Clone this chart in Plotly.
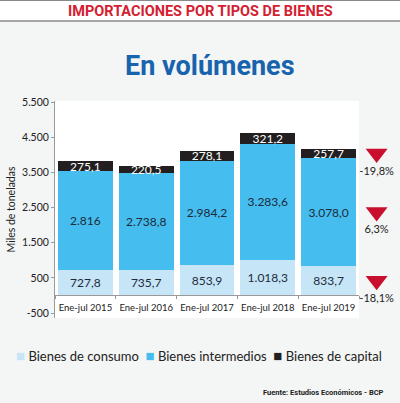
import plotly.graph_objects as go

# values (thousands of tonnes)
periodos = ["Ene-jul 2015", "Ene-jul 2016", "Ene-jul 2017", "Ene-jul 2018", "Ene-jul 2019"]
consumo = [727.8, 735.7, 853.9, 1018.3, 833.7]
intermedios = [2816.0, 2738.8, 2984.2, 3283.6, 3078.0]
capital = [275.1, 220.5, 278.1, 321.2, 257.7]

consumo_txt = ["727,8", "735,7", "853,9", "1.018,3", "833,7"]
intermedios_txt = ["2.816", "2.738,8", "2.984,2", "3.283,6", "3.078,0"]
capital_txt = ["275,1", "220,5", "278,1", "321,2", "257,7"]

# change 2019 vs 2018 per type (consumo, intermedios, capital)
variacion_txt = ["-18,1%", "6,3%", "-19,8%"]

ytick_vals = [-500, 500, 1500, 2500, 3500, 4500, 5500]
ytick_text = ["-500", "500", "1.500", "2.500", "3.500", "4.500", "5.500"]
y_range = [-640, 5530]

W, H = 400, 403
ML, MR, MT, MB = 55, 0, 101, 85
PLOT_RIGHT = 359  # right edge of the white plot box, px


def py(pix):
    # pixel row -> paper y
    return (H - MB - pix) / (H - MT - MB)


def px(pix):
    # pixel column -> paper x
    return (pix - ML) / (W - ML - MR)


FONT = "Lato, 'Open Sans', sans-serif"
HEAD = "Roboto, sans-serif"

colores = ["#c6e5f6", "#45bdee", "#231f20"]
nombres = ["Bienes de consumo", "Bienes intermedios", "Bienes de capital"]

fig = go.Figure()

series = zip(nombres, [consumo, intermedios, capital],
             [consumo_txt, intermedios_txt, capital_txt], colores,
             ["#1d2b3a", "#1d2b3a", "white"])
for name, vals, txt, col, tcol in series:
    fig.add_trace(go.Bar(
        x=periodos, y=vals, name=name, text=txt,
        textposition="inside", insidetextanchor="middle", textangle=0,
        constraintext="none", textfont=dict(family=FONT, size=12, color=tcol),
        marker=dict(color=col, line=dict(width=0)), hoverinfo="skip",
        showlegend=False,
    ))

# red down-triangles next to the last bar, at the middle of each segment
last = len(periodos) - 1
bases = [0, consumo[last], consumo[last] + intermedios[last]]
sizes = [consumo[last], intermedios[last], capital[last]]
mids = [b + s / 2 for b, s in zip(bases, sizes)]
fig.add_trace(go.Scatter(
    x=[0.43] * 3, y=mids, xaxis="x2", yaxis="y", mode="markers+text",
    text=variacion_txt, textposition="bottom center", cliponaxis=False,
    showlegend=False,
    marker=dict(symbol="triangle-down", size=19, color="#c8102e"),
    textfont=dict(family=FONT, size=11, color="#222"), hoverinfo="skip",
))

# legend drawn as one line of text with coloured squares
leyenda = "  ".join(
    '<span style="color:%s;font-size:15px">■</span> %s' % (c, n)
    for c, n in zip(colores, nombres)
)

zero_pos = (0 - y_range[0]) / (y_range[1] - y_range[0])
dom_end = px(PLOT_RIGHT)

fig.update_layout(
    width=W, height=H, barmode="stack", bargap=0.1,
    separators=",.",
    margin=dict(l=ML, r=MR, t=MT, b=MB),
    paper_bgcolor="#f4f5f5", plot_bgcolor="rgba(0,0,0,0)",
    font=dict(family=FONT, color="#222"),
    showlegend=False,
    xaxis=dict(domain=[0, dom_end], anchor="free", position=zero_pos,
               showgrid=False, showline=True, linecolor="#9a9a9a", linewidth=1,
               ticks="outside", ticklen=3, tickcolor="#9a9a9a", tickson="boundaries",
               tickangle=0, automargin=False, ticklabelstandoff=3,
               tickfont=dict(family=FONT, size=9.5, color="#222"),
               fixedrange=True),
    xaxis2=dict(domain=[dom_end, 1], range=[0, 1], anchor="y", visible=False,
                fixedrange=True),
    yaxis=dict(range=y_range, tickvals=ytick_vals, ticktext=ytick_text,
               showgrid=False, zeroline=False, automargin=False,
               showline=True, linecolor="#9a9a9a", linewidth=1,
               ticks="outside", ticklen=3, tickcolor="#9a9a9a",
               tickfont=dict(family=FONT, size=10.5, color="#222"),
               title=dict(text="Miles de toneladas", standoff=4,
                          font=dict(family=FONT, size=10.5, color="#222")),
               fixedrange=True),
    shapes=[
        dict(type="rect", xref="x domain", yref="y domain", x0=0, x1=1, y0=0, y1=1,
             fillcolor="white", line=dict(width=0), layer="below"),
        dict(type="rect", xref="paper", yref="paper", x0=px(0), x1=px(W),
             y0=py(21), y1=py(0), fillcolor="white", line=dict(width=0), layer="below"),
        dict(type="line", xref="paper", yref="paper", x0=px(0), x1=px(W),
             y0=py(0.5), y1=py(0.5), line=dict(color="#8a8a8a", width=1)),
        dict(type="line", xref="paper", yref="paper", x0=px(0), x1=px(W),
             y0=py(21), y1=py(21), line=dict(color="#8a8a8a", width=1.5)),
    ],
    annotations=[
        dict(text="<b>IMPORTACIONES POR TIPOS DE BIENES</b>",
             xref="paper", yref="paper",
             x=px(200), y=py(11), showarrow=False, xanchor="center", yanchor="middle",
             font=dict(family=HEAD, size=14.5, color="#d42030")),
        dict(text="<b>En volúmenes</b>", xref="paper", yref="paper",
             x=px(210), y=py(66), showarrow=False, xanchor="center", yanchor="middle",
             font=dict(family=HEAD, size=27, color="#1863ad")),
        dict(text=leyenda, xref="paper", yref="paper",
             x=px(199), y=py(355), showarrow=False, xanchor="center", yanchor="middle",
             font=dict(family=FONT, size=13, color="#222")),
        dict(text="<b>Fuente: Estudios Económicos - BCP</b>",
             xref="paper", yref="paper",
             x=px(386), y=py(392), showarrow=False, xanchor="right", yanchor="middle",
             font=dict(family=HEAD, size=7.5, color="#222")),
    ],
)

# drop the browser's default page margin so the chart sits at the window corner
fig.write_html("out.html", config={"displayModeBar": False},
               post_script="document.body.style.margin='0';")
